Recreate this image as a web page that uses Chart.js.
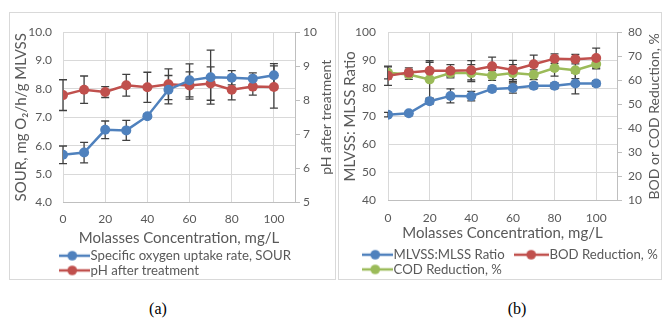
<!DOCTYPE html>
<html>
<head>
<meta charset="utf-8">
<script src="https://cdn.jsdelivr.net/npm/chart.js@4"></script>
<style>
  html, body { margin: 0; padding: 0; background: #fff; }
  #wrap { position: relative; width: 662px; height: 323px; overflow: hidden; }
  .box { position: absolute; border: 1px solid #d9d9d9; box-sizing: border-box; }
  canvas { position: absolute; }
  .cap { position: absolute; top: 300px; width: 40px; text-align: center;
         font-family: "Liberation Serif", serif; font-size: 16px; color: #000; }
</style>
</head>
<body>
<div id="wrap">
  <div class="box" style="left:9px;top:12px;width:327px;height:268px"></div>
  <div class="box" style="left:338px;top:12px;width:324px;height:268px"></div>
  <canvas id="chartA" width="324" height="274" style="left:10px;top:13px"></canvas>
  <canvas id="chartB" width="321" height="273" style="left:340px;top:13px"></canvas>
  <div class="cap" style="left:138px">(a)</div>
  <div class="cap" style="left:497px">(b)</div>
</div>
<script>
// molasses concentration, mg/L
const concentration = [0, 10, 20, 30, 40, 50, 60, 70, 80, 90, 100];
const xTicks = [0, 20, 40, 60, 80, 100];

// panel (a)
const sour = [5.68, 5.76, 6.56, 6.54, 7.04, 7.97, 8.30, 8.41, 8.39, 8.36, 8.48];
const sourErr = [0.31, 0.36, 0.31, 0.35, 0.08, 0.5, 0.58, 0.95, 0.25, 0.2, 0.41];
const phAfter = [8.15, 8.31, 8.24, 8.44, 8.38, 8.47, 8.43, 8.49, 8.31, 8.40, 8.39];
const phErr = [0.45, 0.40, 0.16, 0.32, 0.44, 0.45, 0.4, 0.49, 0.3, 0.25, 0.62];

// panel (b)
const mlvssRatio = [70.6, 71.1, 75.4, 77.3, 77.2, 79.8, 80.1, 80.9, 80.9, 81.7, 81.7];
const mlvssErr = [0.8, 0.8, 1.0, 2.5, 1.7, 1.0, 1.8, 1.0, 1.0, 3.7, 1.0];
const bodRed = [61.9, 63.2, 64.0, 64.0, 64.2, 65.8, 64.3, 66.7, 69.0, 68.8, 69.3];
const bodErr = [4.0, 2.0, 3.5, 2.5, 4.0, 3.8, 4.0, 3.8, 2.0, 2.0, 4.1];
const codRed = [63.1, 62.4, 60.4, 63.0, 63.0, 62.0, 63.0, 62.3, 65.1, 64.2, 66.8];
const codErr = [2.5, 2.0, 7.8, 2.0, 3.5, 2.0, 3.5, 2.0, 3.4, 3.5, 2.0];

const BLUE = "#4f81bd", RED = "#c0504d", GREEN = "#9bbb59";
const textGrey = "#595959", gridGrey = "#d9d9d9", axisGrey = "#bfbfbf";

Chart.defaults.font.family = "Lato, sans-serif";
Chart.defaults.font.size = 12;
Chart.defaults.color = textGrey;

const pts = (ys) => concentration.map((x, i) => ({ x, y: ys[i] }));

// excel-like legend key: short line with a dot on it
function lineMarker(color) {
  const c = document.createElement("canvas");
  c.width = 35; c.height = 12;
  const g = c.getContext("2d");
  g.strokeStyle = color; g.lineWidth = 2.5;
  g.beginPath(); g.moveTo(0, 6); g.lineTo(35, 6); g.stroke();
  g.fillStyle = color;
  g.beginPath(); g.arc(17.5, 6, 4.8, 0, Math.PI * 2); g.fill();
  return c;
}

function series(label, data, errors, color, axis, gap) {
  return {
    label, data: pts(data), errors, yAxisID: axis,
    borderColor: color, backgroundColor: color,
    borderWidth: 2.5, pointRadius: 5, pointBorderWidth: 0, tension: 0,
    marker: lineMarker(color), legendGap: gap || "",
  };
}

const errorBars = {
  id: "errorBars",
  beforeDatasetsDraw(chart) {
    const ctx = chart.ctx;
    ctx.save();
    ctx.strokeStyle = "#404040";
    ctx.lineWidth = 1.3;
    chart.data.datasets.forEach((ds) => {
      const xs = chart.scales.x, ys = chart.scales[ds.yAxisID];
      ds.data.forEach((p, j) => {
        const px = xs.getPixelForValue(p.x);
        const top = ys.getPixelForValue(p.y + ds.errors[j]);
        const bot = ys.getPixelForValue(p.y - ds.errors[j]);
        ctx.beginPath();
        ctx.moveTo(px, top); ctx.lineTo(px, bot);
        ctx.moveTo(px - 4, top); ctx.lineTo(px + 4, top);
        ctx.moveTo(px - 4, bot); ctx.lineTo(px + 4, bot);
        ctx.stroke();
      });
    });
    ctx.restore();
  },
};

// right axis title reads bottom-to-top like excel
const sideTitle = {
  id: "sideTitle",
  afterDraw(chart, args, opts) {
    const ctx = chart.ctx, a = chart.chartArea;
    ctx.save();
    ctx.fillStyle = textGrey;
    ctx.font = opts.size + "px Lato";
    ctx.textAlign = "center";
    ctx.textBaseline = "middle";
    ctx.translate(opts.x, (a.top + a.bottom) / 2);
    ctx.rotate(-Math.PI / 2);
    ctx.fillText(opts.text, 0, 0);
    ctx.restore();
  },
};

const legendShift = {
  id: "legendShift",
  afterLayout(chart, args, opts) {
    const lg = chart.legend;
    const d = opts.left - lg.left;
    lg.left += d; lg.right += d;
  },
};

function makeChart(id, datasets, cfg) {
  return new Chart(document.getElementById(id), {
    type: "line",
    data: { datasets },
    plugins: [errorBars, sideTitle, legendShift],
    options: {
      responsive: false,
      animation: false,
      devicePixelRatio: 1,
      layout: { padding: { top: cfg.top, left: 0, right: 0, bottom: 0 } },
      plugins: {
        tooltip: { enabled: false },
        sideTitle: { text: cfg.rightTitle, x: cfg.rightTitleX, size: 14 },
        legendShift: { left: cfg.legendLeft },
        legend: {
          position: "bottom",
          align: "start",
          labels: {
            usePointStyle: true,
            pointStyleWidth: 23.5,
            padding: 1.5,
            color: textGrey,
            font: { size: 13.2 },
            generateLabels(chart) {
              const items = Chart.defaults.plugins.legend.labels.generateLabels(chart);
              items.forEach((it) => {
                const ds = chart.data.datasets[it.datasetIndex];
                it.pointStyle = ds.marker;
                it.text = ds.label + ds.legendGap;
              });
              return items;
            },
          },
        },
      },
      scales: {
        x: {
          type: "linear", min: 0, max: 110,
          afterBuildTicks: (s) => { s.ticks = xTicks.map((v) => ({ value: v })); },
          ticks: { padding: cfg.xTickPad },
          grid: { color: gridGrey, drawTicks: false },
          border: { display: true, color: axisGrey },
          title: { display: true, text: "Molasses Concentration, mg/L", font: { size: 15 },
                   padding: { top: 0, bottom: cfg.xTitlePad } },
          afterFit: (s) => { s.height = cfg.xHeight; },
        },
        y: {
          position: "left", min: cfg.yMin, max: cfg.yMax,
          ticks: { stepSize: cfg.yStep, padding: cfg.yTickPad, callback: cfg.yFmt },
          grid: { color: (c) => (c.index === 0 ? axisGrey : gridGrey), drawTicks: false },
          border: { display: false },
          title: { display: true, text: cfg.leftTitle, font: { size: 15 },
                   padding: { top: cfg.yTitlePad, bottom: 0 } },
          afterFit: (s) => { s.width = cfg.yWidth; },
        },
        y1: {
          position: "right", min: cfg.y1Min, max: cfg.y1Max,
          ticks: { stepSize: cfg.y1Step, padding: cfg.y1TickPad },
          grid: { drawOnChartArea: false, drawTicks: true, tickLength: 5, tickColor: axisGrey },
          border: { display: true, color: axisGrey },
          afterFit: (s) => { s.width = cfg.y1Width; },
        },
      },
    },
  });
}

makeChart("chartA", [
  series("Specific oxygen uptake rate, SOUR", sour, sourErr, BLUE, "y"),
  series("pH after treatment", phAfter, phErr, RED, "y1"),
], {
  top: 19, xHeight: 45, xTickPad: 9, xTitlePad: 0,
  yMin: 4, yMax: 10, yStep: 1, yTickPad: 11, yTitlePad: 2, yWidth: 53,
  yFmt: (v) => Number(v).toFixed(1),
  y1Min: 5, y1Max: 10, y1Step: 1, y1TickPad: 3, y1Width: 39,
  leftTitle: "SOUR, mg O\u2082/h/g MLVSS",
  rightTitle: "pH after treatment", rightTitleX: 316,
  legendLeft: 49,
});

makeChart("chartB", [
  series("MLVSS:MLSS Ratio", mlvssRatio, mlvssErr, BLUE, "y", "\u2002\u2002"),
  series("BOD Reduction, %", bodRed, bodErr, RED, "y1"),
  series("COD Reduction, %", codRed, codErr, GREEN, "y1"),
], {
  top: 18, xHeight: 46, xTickPad: 10, xTitlePad: 4,
  yMin: 40, yMax: 100, yStep: 10, yTickPad: 12, yTitlePad: 1, yWidth: 48,
  yFmt: (v) => v,
  y1Min: 10, y1Max: 80, y1Step: 10, y1TickPad: 6, y1Width: 44,
  leftTitle: "MLVSS: MLSS Ratio",
  rightTitle: "BOD or COD Reduction, %", rightTitleX: 314,
  legendLeft: 22,
});
</script>
</body>
</html>
